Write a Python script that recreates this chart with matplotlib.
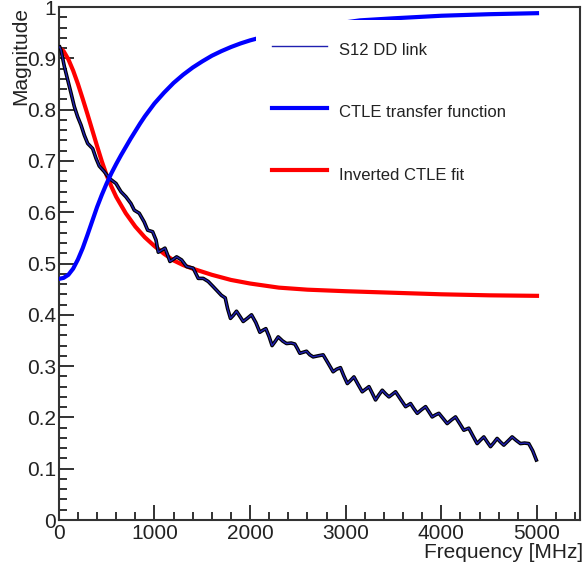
import numpy as np
import matplotlib.pyplot as plt
from matplotlib.ticker import MultipleLocator, AutoMinorLocator, FormatStrFormatter

plt.rcParams['font.family'] = ['Liberation Sans', 'DejaVu Sans']

# S12 DD link (measured, MHz vs magnitude)
s12_freq = [10, 23, 58, 93, 128, 162, 197, 232, 267, 302, 354, 389, 423, 476,
            528, 598, 650, 702, 754, 789, 841, 893, 929, 981, 1016, 1040, 1075,
            1110, 1135, 1162, 1195, 1232, 1284, 1336, 1405, 1458, 1510, 1562,
            1614, 1700, 1740, 1765, 1795, 1825, 1858, 1890, 1928, 1970, 2015,
            2060, 2102, 2135, 2165, 2200, 2230, 2262, 2294, 2340, 2381, 2430,
            2468, 2495, 2520, 2555, 2590, 2625, 2659, 2710, 2764, 2815, 2868,
            2905, 2945, 2980, 3017, 3050, 3086, 3130, 3173, 3208, 3243, 3278,
            3312, 3347, 3382, 3417, 3452, 3487, 3521, 3575, 3626, 3652, 3678,
            3713, 3748, 3792, 3835, 3870, 3904, 3940, 3974, 4018, 4061, 4105,
            4148, 4192, 4235, 4261, 4287, 4330, 4374, 4410, 4444, 4480, 4514,
            4550, 4583, 4618, 4653, 4697, 4740, 4784, 4827, 4870, 4914, 4955,
            4993]
s12_mag = [0.922, 0.916, 0.884, 0.858, 0.832, 0.806, 0.786, 0.770, 0.750, 0.734,
           0.724, 0.705, 0.690, 0.679, 0.666, 0.656, 0.640, 0.630, 0.617, 0.604,
           0.598, 0.581, 0.565, 0.562, 0.546, 0.522, 0.526, 0.530, 0.518, 0.504,
           0.508, 0.513, 0.507, 0.494, 0.491, 0.471, 0.471, 0.465, 0.455, 0.438,
           0.433, 0.412, 0.393, 0.399, 0.407, 0.398, 0.387, 0.393, 0.400, 0.385,
           0.366, 0.370, 0.373, 0.357, 0.340, 0.348, 0.357, 0.349, 0.344, 0.345,
           0.343, 0.334, 0.325, 0.327, 0.329, 0.322, 0.318, 0.320, 0.322, 0.306,
           0.289, 0.294, 0.297, 0.281, 0.266, 0.272, 0.279, 0.264, 0.250, 0.255,
           0.260, 0.247, 0.234, 0.244, 0.253, 0.246, 0.240, 0.245, 0.250, 0.235,
           0.221, 0.224, 0.227, 0.217, 0.208, 0.215, 0.221, 0.211, 0.201, 0.205,
           0.208, 0.198, 0.188, 0.195, 0.201, 0.188, 0.175, 0.177, 0.179, 0.164,
           0.149, 0.156, 0.162, 0.152, 0.143, 0.151, 0.159, 0.152, 0.146, 0.154,
           0.162, 0.155, 0.149, 0.150, 0.149, 0.135, 0.117]

# CTLE transfer function
ctle_freq = [0, 50, 100, 150, 200, 250, 300, 350, 400, 450, 500, 550, 600, 650,
             700, 750, 800, 850, 900, 1000, 1100, 1200, 1300, 1400, 1500, 1600,
             1700, 1800, 1900, 2000, 2100, 2300, 2500, 2800, 3150, 3500, 4000,
             4500, 5000]
ctle_mag = [0.470, 0.472, 0.478, 0.490, 0.508, 0.530, 0.556, 0.583, 0.610, 0.634,
            0.656, 0.676, 0.694, 0.711, 0.727, 0.743, 0.758, 0.773, 0.787, 0.812,
            0.833, 0.852, 0.868, 0.882, 0.894, 0.905, 0.914, 0.922, 0.929, 0.935,
            0.940, 0.948, 0.955, 0.965, 0.974, 0.978, 0.983, 0.986, 0.988]

# inverted CTLE fit
fit_freq = [0, 50, 100, 150, 200, 250, 300, 350, 400, 450, 500, 550, 600, 700,
            800, 900, 1000, 1100, 1200, 1300, 1400, 1600, 1800, 2000, 2300, 2600,
            3000, 3500, 4000, 4500, 5000]
fit_mag = [0.921, 0.914, 0.898, 0.876, 0.850, 0.821, 0.791, 0.760, 0.729, 0.699,
           0.672, 0.650, 0.630, 0.598, 0.572, 0.551, 0.534, 0.519, 0.506, 0.497,
           0.490, 0.478, 0.468, 0.461, 0.453, 0.449, 0.446, 0.443, 0.440, 0.438,
           0.437]

txt = '#222222'

fig = plt.figure(figsize=(5.84, 5.71), dpi=100)
ax = fig.add_axes([0.1007, 0.0893, 0.8925, 0.8984])

ax.plot(fit_freq, fit_mag, color='#ff0000', lw=3.0, label='Inverted CTLE fit', zorder=2)
ax.plot(s12_freq, s12_mag, color='black', lw=2.6, solid_joinstyle='round', zorder=3)
ax.plot(s12_freq, s12_mag, color='#2020b0', lw=1.0, label='S12 DD link', zorder=3)
ax.plot(ctle_freq, ctle_mag, color='#0000ff', lw=3.0, label='CTLE transfer function', zorder=4)

ax.set_xlim(0, 5450)
ax.set_ylim(0, 1)
ax.xaxis.set_major_locator(MultipleLocator(1000))
ax.xaxis.set_minor_locator(AutoMinorLocator(5))
ax.yaxis.set_major_locator(MultipleLocator(0.1))
ax.yaxis.set_minor_locator(AutoMinorLocator(5))
ax.yaxis.set_major_formatter(FormatStrFormatter('%g'))

ax.tick_params(which='both', direction='in', top=False, right=False, colors=txt,
               labelsize=15, width=1.3)
ax.tick_params(which='major', length=11)
ax.tick_params(which='minor', length=5.5)
ax.tick_params(axis='y', pad=2)
ax.tick_params(axis='x', pad=3)
for s in ax.spines.values():
    s.set_linewidth(1.5)
    s.set_color('#333333')

ax.set_xlabel('Frequency [MHz]', loc='right', fontsize=15, color=txt)
ax.xaxis.set_label_coords(1.006, -0.045)
ax.set_ylabel('Magnitude', loc='top', fontsize=15, color=txt)
ax.yaxis.set_label_coords(-0.055, 1.0)

h, l = ax.get_legend_handles_labels()
order = [1, 2, 0]
leg = ax.legend([h[i] for i in order], [l[i] for i in order], loc='upper left',
                bbox_to_anchor=(0.378, 0.975), borderaxespad=0, borderpad=1.0,
                fontsize=12, frameon=True, facecolor='white', edgecolor='none',
                fancybox=False, framealpha=1, handlelength=3.3, handleheight=2.0,
                handletextpad=0.7, labelspacing=2.2)
for t in leg.get_texts():
    t.set_color(txt)
leg.set_zorder(10)

fig.savefig('out.png', dpi=100)
